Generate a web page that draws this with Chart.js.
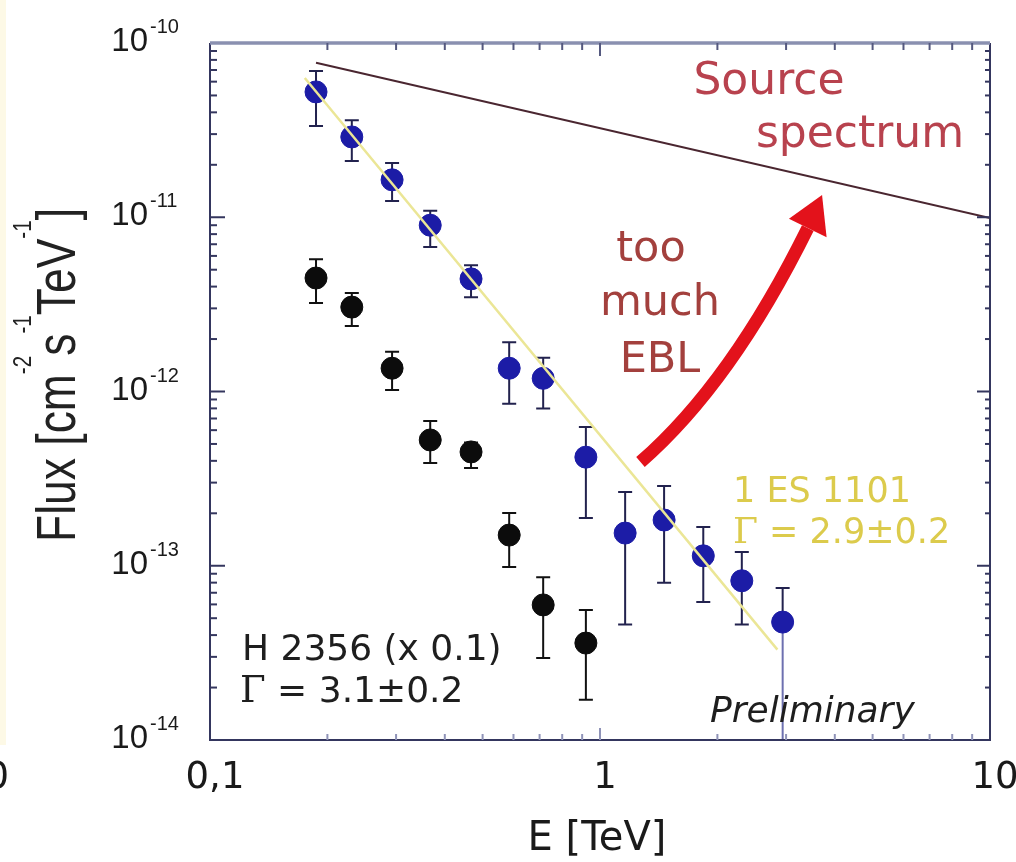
<!DOCTYPE html>
<html>
<head>
<meta charset="utf-8">
<title>1ES 1101 / H 2356 spectra</title>
<script src="https://cdn.jsdelivr.net/npm/chart.js@4.4.1/dist/chart.umd.min.js"></script>
<style>
  html, body { margin: 0; padding: 0; background: #fff; }
  #wrap { position: relative; width: 1016px; height: 862px; }
</style>
</head>
<body>
<div id="wrap"><canvas id="spectrum"></canvas></div>
<script>
// ---- measured spectra (E in TeV, flux in cm^-2 s^-1 TeV^-1) ----
const energyBins = [0.187, 0.231, 0.293, 0.367, 0.467, 0.585, 0.715, 0.92, 1.16, 1.46, 1.84, 2.31, 2.94];

const es1101Flux = [5.24e-11, 2.89e-11, 1.64e-11, 9.0e-12, 4.43e-12, 1.36e-12, 1.19e-12, 4.2e-13, 1.54e-13, 1.83e-13, 1.14e-13, 8.2e-14, 4.75e-14];
const es1101Hi   = [6.9e-11, 3.6e-11, 2.05e-11, 1.09e-11, 5.3e-12, 1.92e-12, 1.56e-12, 6.25e-13, 2.65e-13, 2.87e-13, 1.67e-13, 1.2e-13, 7.45e-14];
const es1101Lo   = [3.34e-11, 2.1e-11, 1.24e-11, 6.75e-12, 3.48e-12, 8.5e-13, 8.0e-13, 1.88e-13, 4.6e-14, 8.0e-14, 6.2e-14, 4.6e-14, 1e-14];

// H 2356 already scaled by 0.1
const h2356Flux = [4.48e-12, 3.05e-12, 1.36e-12, 5.27e-13, 4.5e-13, 1.5e-13, 5.96e-14, 3.6e-14];
const h2356Hi   = [5.75e-12, 3.67e-12, 1.69e-12, 6.78e-13, 5.1e-13, 2.01e-13, 8.6e-14, 5.57e-14];
const h2356Lo   = [3.22e-12, 2.38e-12, 1.02e-12, 3.89e-13, 3.64e-13, 9.85e-14, 2.96e-14, 1.7e-14];

// intrinsic source spectrum and power-law fit to 1ES 1101
const sourceE    = [0.187, 10];
const sourceFlux = [7.7e-11, 9.9e-12];
const fitE       = [0.175, 2.85];
const fitFlux    = [6.3e-11, 3.3e-14];

// EBL correction arrow: start, bend, shaft end, tip
const arrowE    = [1.27, 2.17, 3.41, 3.71];
const arrowFlux = [3.94e-13, 1.12e-12, 8.67e-12, 1.34e-11];

// axis ticks
const xTickValues = [0.1, 1, 10];
const xTickLabels = ['0,1', '1', '10'];
const yTickValues = [1e-10, 1e-11, 1e-12, 1e-13, 1e-14];
const yTickExps   = ['-10', '-11', '-12', '-13', '-14'];

const SANS = '"DejaVu Sans", Verdana, sans-serif';
const ARIAL = '"Liberation Sans", Arial, sans-serif';

const pts = (xs, ys) => ys.map((y, i) => ({ x: xs[i], y }));

function logTicks(min, max) {
  const out = [];
  const d0 = Math.round(Math.log10(min));
  const d1 = Math.round(Math.log10(max));
  for (let d = d0; d < d1; d++) {
    for (let k = 1; k < 10; k++) out.push({ v: k * Math.pow(10, d), major: k === 1 });
  }
  out.push({ v: max, major: true });
  return out;
}

function runs(ctx, list, x, y) {
  let cx = x;
  list.forEach(r => {
    ctx.font = r.f;
    ctx.fillText(r.t, cx, y + (r.dy || 0));
    cx += ctx.measureText(r.t).width;
  });
}

function drawErrorBars(ctx, chart, ds, meta) {
  const ys = chart.scales.y;
  ctx.save();
  ctx.lineWidth = 2;
  meta.data.forEach((el, i) => {
    const x = el.x;
    const yHi = ys.getPixelForValue(ds.errHi[i]);
    const yMid = el.y;
    const open = ds.errLo[i] <= ys.min;   // runs off the bottom of the axis
    const yLo = ys.getPixelForValue(Math.max(ds.errLo[i], ys.min));
    ctx.strokeStyle = ds.errColor;
    ctx.beginPath();
    ctx.moveTo(x, yHi); ctx.lineTo(x, open ? yMid : yLo);
    ctx.moveTo(x - 7, yHi); ctx.lineTo(x + 7, yHi);
    if (!open) { ctx.moveTo(x - 7, yLo); ctx.lineTo(x + 7, yLo); }
    ctx.stroke();
    if (open) {
      ctx.strokeStyle = '#6d70b0';
      ctx.beginPath(); ctx.moveTo(x, yMid); ctx.lineTo(x, yLo); ctx.stroke();
    }
  });
  ctx.restore();
}

const decorations = {
  id: 'decorations',
  beforeDatasetsDraw(chart) {
    const ctx = chart.ctx;
    chart.data.datasets.forEach((ds, i) => {
      if (ds.errHi) drawErrorBars(ctx, chart, ds, chart.getDatasetMeta(i));
    });
  },
  afterDatasetsDraw(chart) {
    const ctx = chart.ctx;
    const { left, right, top, bottom } = chart.chartArea;
    const xs = chart.scales.x, ys = chart.scales.y;

    // faint strip on the left edge
    ctx.save();
    ctx.fillStyle = '#fdf9e6';
    ctx.fillRect(0, 0, 6, 745);
    ctx.restore();

    // red arrow
    const ap = arrowE.map((e, i) => ({ x: xs.getPixelForValue(e), y: ys.getPixelForValue(arrowFlux[i]) }));
    ctx.save();
    ctx.strokeStyle = '#e3121b';
    ctx.fillStyle = '#e3121b';
    ctx.lineWidth = 13;
    ctx.lineCap = 'butt';
    ctx.beginPath();
    ctx.moveTo(ap[0].x, ap[0].y);
    ctx.quadraticCurveTo(ap[1].x, ap[1].y, ap[2].x, ap[2].y);
    ctx.stroke();
    const dx = ap[2].x - ap[1].x, dy = ap[2].y - ap[1].y;
    const len = Math.hypot(dx, dy);
    const nx = -dy / len, ny = dx / len;
    ctx.beginPath();
    ctx.moveTo(ap[2].x + nx * 21, ap[2].y + ny * 21);
    ctx.lineTo(ap[3].x, ap[3].y);
    ctx.lineTo(ap[2].x - nx * 21, ap[2].y - ny * 21);
    ctx.closePath();
    ctx.fill();
    ctx.restore();

    // frame
    ctx.save();
    ctx.lineWidth = 2;
    ctx.strokeStyle = '#34365e';
    ctx.beginPath();
    ctx.moveTo(left, top); ctx.lineTo(left, bottom); ctx.lineTo(right, bottom); ctx.lineTo(right, top);
    ctx.stroke();
    ctx.lineWidth = 3.5;
    ctx.strokeStyle = '#8a90b0';
    ctx.beginPath();
    ctx.moveTo(left, top); ctx.lineTo(right, top);
    ctx.stroke();

    // inward ticks
    ctx.lineWidth = 2;
    logTicks(xs.min, xs.max).forEach(t => {
      const x = xs.getPixelForValue(t.v);
      if (x <= left + 1 || x >= right - 1) return;
      const l = t.major ? 13 : 7;
      ctx.strokeStyle = '#55597f';
      ctx.beginPath(); ctx.moveTo(x, top); ctx.lineTo(x, top + l); ctx.stroke();
      ctx.strokeStyle = '#8f93b8';
      ctx.beginPath(); ctx.moveTo(x, bottom); ctx.lineTo(x, bottom - l + 1); ctx.stroke();
    });
    ctx.strokeStyle = '#34365e';
    logTicks(ys.min, ys.max).forEach(t => {
      const y = ys.getPixelForValue(t.v);
      if (y <= top + 1 || y >= bottom - 1) return;
      const l = t.major ? 15 : 7;
      ctx.beginPath(); ctx.moveTo(left, y); ctx.lineTo(left + l, y); ctx.stroke();
      ctx.beginPath(); ctx.moveTo(right, y); ctx.lineTo(right - l + 2, y); ctx.stroke();
    });
    ctx.restore();

    // tick labels
    ctx.save();
    ctx.fillStyle = '#1a1a1a';
    ctx.textBaseline = 'alphabetic';
    yTickValues.forEach((v, i) => {
      const y = ys.getPixelForValue(v);
      ctx.font = '33px ' + ARIAL;
      ctx.textAlign = 'right';
      ctx.fillText('10', 148, y + 8);
      ctx.font = '20px ' + ARIAL;
      ctx.textAlign = 'left';
      ctx.fillText(yTickExps[i], 150, y - 10);
    });
    ctx.font = '37px ' + SANS;
    ctx.textAlign = 'center';
    xTickValues.forEach((v, i) => {
      ctx.fillText(xTickLabels[i], xs.getPixelForValue(v) + 5, 788);
    });
    ctx.textAlign = 'right';
    ctx.fillText('10', 9, 788);

    // axis titles
    ctx.textAlign = 'center';
    ctx.font = '40px ' + SANS;
    ctx.fillText('E [TeV]', 597, 850);

    const yTitle = [
      { t: 'Flux [cm', sup: false }, { t: '-2', sup: true }, { t: 's', sup: false },
      { t: '-1', sup: true }, { t: 'TeV', sup: false }, { t: '-1', sup: true }, { t: ']', sup: false }
    ];
    const mainF = '56px ' + ARIAL, supF = '26px ' + ARIAL;
    let total = 0;
    yTitle.forEach(s => { ctx.font = s.sup ? supF : mainF; total += ctx.measureText(s.t).width; });
    const sx = 334 / total;
    ctx.translate(75, 542);
    ctx.rotate(-Math.PI / 2);
    ctx.scale(sx, 1);
    ctx.textAlign = 'left';
    ctx.fillStyle = '#222';
    let cx = 0;
    yTitle.forEach(s => {
      ctx.font = s.sup ? supF : mainF;
      ctx.fillText(s.t, cx, s.sup ? -44 : 0);
      cx += ctx.measureText(s.t).width;
    });
    ctx.restore();

    // annotations
    ctx.save();
    ctx.textAlign = 'center';
    ctx.fillStyle = '#b8424e';
    ctx.font = '44px ' + SANS;
    ctx.fillText('Source', 769, 94);
    ctx.fillText('spectrum', 860, 147);
    ctx.fillStyle = '#a3403d';
    ctx.font = '43px ' + SANS;
    ctx.fillText('too', 651, 261);
    ctx.fillText('much', 660, 315);
    ctx.fillText('EBL', 660, 372);

    ctx.textAlign = 'left';
    ctx.fillStyle = '#dccb4c';
    ctx.font = '35px ' + SANS;
    ctx.fillText('1 ES 1101', 733, 502);
    runs(ctx, [{ t: 'Γ', f: '36px "DejaVu Serif", serif' }, { t: ' = 2.9±0.2', f: '35px ' + SANS }], 733, 543);

    ctx.fillStyle = '#1e1e1e';
    ctx.font = '36px ' + SANS;
    ctx.fillText('H 2356 (x 0.1)', 242, 660);
    runs(ctx, [{ t: 'Γ', f: '37px "DejaVu Serif", serif' }, { t: ' = 3.1±0.2', f: '36px ' + SANS }], 240, 702);

    ctx.font = 'italic 36px ' + SANS;
    ctx.fillText('Preliminary', 710, 722);
    ctx.restore();
  }
};

new Chart(document.getElementById('spectrum'), {
  type: 'scatter',
  data: {
    datasets: [
      {
        label: 'fit 1ES 1101',
        data: pts(fitE, fitFlux),
        showLine: true,
        borderColor: '#ebe696',
        borderWidth: 2.5,
        pointRadius: 0,
        order: 0
      },
      {
        label: 'source spectrum',
        data: pts(sourceE, sourceFlux),
        showLine: true,
        borderColor: '#4a2630',
        borderWidth: 2,
        pointRadius: 0,
        order: 1
      },
      {
        label: '1ES 1101',
        data: pts(energyBins, es1101Flux),
        errHi: es1101Hi,
        errLo: es1101Lo,
        errColor: '#22224e',
        backgroundColor: '#1c1ca6',
        borderColor: '#1c1ca6',
        pointRadius: 11,
        order: 2
      },
      {
        label: 'H 2356 (x 0.1)',
        data: pts(energyBins.slice(0, h2356Flux.length), h2356Flux),
        errHi: h2356Hi,
        errLo: h2356Lo,
        errColor: '#111111',
        backgroundColor: '#0c0c0c',
        borderColor: '#0c0c0c',
        pointRadius: 11,
        order: 3
      }
    ]
  },
  options: {
    responsive: true,
    maintainAspectRatio: false,
    animation: false,
    layout: { padding: { left: 210, top: 43, right: 26, bottom: 122 } },
    plugins: {
      legend: { display: false },
      tooltip: { enabled: false }
    },
    scales: {
      x: { type: 'logarithmic', min: 0.1, max: 10, display: false },
      y: { type: 'logarithmic', min: 1e-14, max: 1e-10, display: false }
    }
  },
  plugins: [decorations]
});
</script>
</body>
</html>
